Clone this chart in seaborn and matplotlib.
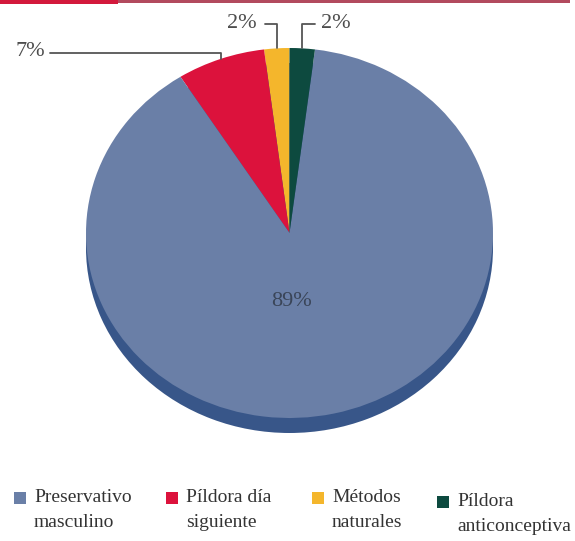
import numpy as np
import matplotlib
matplotlib.use("Agg")
import matplotlib.pyplot as plt
from matplotlib.patches import Rectangle
import seaborn as sns

# data (legend order)
categories = ["Preservativo\nmasculino", "Píldora día\nsiguiente", "Métodos\nnaturales", "Píldora\nanticonceptiva"]
shares = [89, 7, 2, 2]
colors = ["#6a7fa7", "#dc123c", "#f4b62c", "#0d4a3f"]
# counter-clockwise order of the slices starting at 12 o'clock
draw_order = [2, 1, 0, 3]

sns.set_theme(style="white")
plt.rcParams["font.family"] = ["Liberation Serif", "DejaVu Serif"]

W, H = 575, 541
CX, CY, RX, RY = 289.5, 233.0, 203.5, 185.0
DEPTH = 15


def px(x):
    return (x - CX) / RX


def py(y):
    return (CY - y) / RY


fig = plt.figure(figsize=(W / 100, H / 100), dpi=100)
ax = fig.add_axes([0, 0, 1, 1])

# 3d side of the pie
ax.pie([1], colors=["#385689"], startangle=90, center=(0, -DEPTH / RY),
       wedgeprops=dict(linewidth=0))
wedges, _ = ax.pie([shares[i] for i in draw_order], colors=[colors[i] for i in draw_order],
                   startangle=90, counterclock=True, wedgeprops=dict(linewidth=0))
ax.set_aspect("auto")
ax.set_xlim(px(0), px(W))
ax.set_ylim(py(H), py(0))
ax.axis("off")

txt_col = "#4d4d4d"
line_col = "#555555"
pct_size = 16


def anchor(w):
    t = np.deg2rad((w.theta1 + w.theta2) / 2)
    return np.cos(t), np.sin(t)


# big slice label
ax.text(px(291), py(302), f"{shares[0]}%", ha="center", va="center", fontsize=pct_size, color="#3a4558")

# small slice labels with leader lines
w_red = wedges[draw_order.index(1)]
ax_, ay_ = anchor(w_red)
ax.plot([px(50), ax_, ax_], [py(53), py(53), ay_], color=line_col, lw=1.3)
ax.text(px(45), py(52), f"{shares[1]}%", ha="right", va="center", fontsize=pct_size, color=txt_col)

w_yel = wedges[draw_order.index(2)]
ax_, ay_ = anchor(w_yel)
ax.plot([px(265), ax_, ax_], [py(24), py(24), ay_], color=line_col, lw=1.3)
ax.text(px(257), py(24), f"{shares[2]}%", ha="right", va="center", fontsize=pct_size, color=txt_col)

w_grn = wedges[draw_order.index(3)]
ax_, ay_ = anchor(w_grn)
ax.plot([px(315), ax_, ax_], [py(24), py(24), ay_], color=line_col, lw=1.3)
ax.text(px(321), py(24), f"{shares[3]}%", ha="left", va="center", fontsize=pct_size, color=txt_col)

# top rule
fig.add_artist(Rectangle((0, 1 - 4 / H), 118 / W, 4 / H, transform=fig.transFigure,
                         color="#d3193c", lw=0))
fig.add_artist(Rectangle((118 / W, 1 - 3 / H), 452 / W, 3 / H, transform=fig.transFigure,
                         color="#b24a5e", lw=0))

# legend
leg_x = [14, 166, 312, 437]
leg_dy = [0, 0, 0, 4]
for i, lab in enumerate(categories):
    y0 = 492 + leg_dy[i]
    fig.add_artist(Rectangle((leg_x[i] / W, 1 - (y0 + 12) / H), 12 / W, 12 / H,
                             transform=fig.transFigure, color=colors[i], lw=0))
    fig.text((leg_x[i] + 20) / W, 1 - (y0 - 3) / H, lab, ha="left", va="top",
             fontsize=14, color="#333333", linespacing=1.62)

fig.savefig("out.png", dpi=100)
